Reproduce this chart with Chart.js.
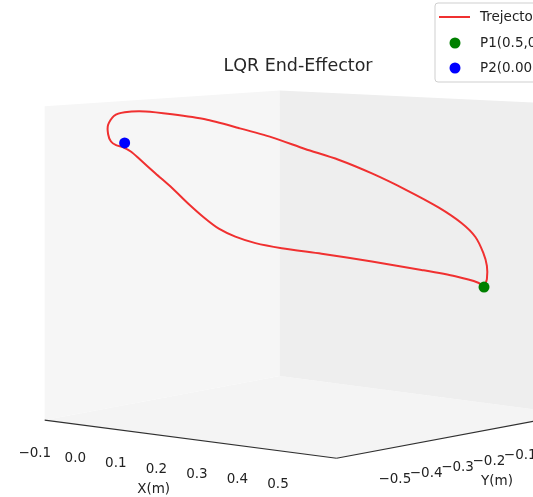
<!DOCTYPE html>
<html>
<head>
<meta charset="utf-8">
<script src="https://cdn.jsdelivr.net/npm/chart.js@4.4.1/dist/chart.umd.min.js"></script>
<style>
  html, body { margin: 0; padding: 0; background: #fff; overflow: hidden; }
  #wrap { width: 533px; height: 497px; }
</style>
</head>
<body>
<div id="wrap"><canvas id="chart" width="533" height="497"></canvas></div>
<script>
const trajX = [0.500, 0.504, 0.504, 0.499, 0.488, 0.469, 0.437, 0.390, 0.344, 0.298, 0.251, 0.205, 0.159,
               0.112, 0.066, 0.029, 0.000, -0.015, -0.023, -0.023, -0.019, -0.012, -0.002, 0.009, 0.020,
               0.043, 0.066, 0.089, 0.112, 0.131, 0.154, 0.182, 0.219, 0.274, 0.344, 0.413, 0.460, 0.492, 0.500];
const trajY = [0.000, 0.004, 0.004, -0.001, -0.012, -0.031, -0.064, -0.110, -0.156, -0.203, -0.249, -0.295, -0.342,
               -0.388, -0.434, -0.471, -0.500, -0.515, -0.523, -0.523, -0.519, -0.512, -0.502, -0.491, -0.481,
               -0.457, -0.434, -0.411, -0.388, -0.369, -0.346, -0.318, -0.282, -0.226, -0.156, -0.087, -0.040, -0.008, 0.000];
const trajZ = [0.300, 0.311, 0.329, 0.347, 0.369, 0.388, 0.410, 0.435, 0.457, 0.476, 0.491, 0.507, 0.520,
               0.532, 0.539, 0.543, 0.542, 0.537, 0.525, 0.512, 0.502, 0.497, 0.494, 0.488, 0.479,
               0.458, 0.438, 0.416, 0.396, 0.382, 0.371, 0.362, 0.355, 0.347, 0.336, 0.324, 0.315, 0.306, 0.300];
const P1 = [0.5, 0.0, 0.3];
const P2 = [0.0, -0.5, 0.5];
const seriesLabels = ['Trejectory', 'P1(0.5,0.0,0.3)', 'P2(0.00,-0.50,0.50)'];

const xTicks = [-0.1, 0.0, 0.1, 0.2, 0.3, 0.4, 0.5];
const yTicks = [-0.5, -0.4, -0.3, -0.2, -0.1, 0.0, 0.1];
const xLim = [-0.12, 0.60];
const yLim = [-0.60, 0.15];
const zLim = [0.12, 0.55];

const RED = '#f03030', GREEN = '#008000', BLUE = '#0000ff';
const PANE_X = '#f6f6f6', PANE_Y = '#eeeeee', PANE_Z = '#f4f4f4';
const FONT = "'DejaVu Sans', sans-serif";
const W = 533, H = 497;

// view of the axes box: bottom-left-back corner, edge vectors and a height
// that shrinks with depth (cheap perspective)
const VIEW = { ox: 40, oy: 424, ex: [298, 39], ey: [240, -45], h0: 321, hx: 25, hy: -29 };

function proj(x, y, z) {
  const u = (x - xLim[0]) / (xLim[1] - xLim[0]);
  const v = (y - yLim[0]) / (yLim[1] - yLim[0]);
  const w = (z - zLim[0]) / (zLim[1] - zLim[0]);
  const h = VIEW.h0 + VIEW.hx * u + VIEW.hy * v;
  return {
    x: VIEW.ox + VIEW.ex[0] * u + VIEW.ey[0] * v,
    y: VIEW.oy + VIEW.ex[1] * u + VIEW.ey[1] * v - h * w
  };
}

const trajPts = trajX.map((x, i) => proj(x, trajY[i], trajZ[i]));

const fmt = t => (t < 0 ? '\u2212' : '') + Math.abs(t).toFixed(1);

// ── panes, axes, ticks, title and legend ──
const frame3d = {
  id: 'frame3d',
  beforeDatasetsDraw(chart) {
    const c = chart.ctx;
    const sx = chart.scales.x, sy = chart.scales.y;
    const P = (x, y, z) => { const p = proj(x, y, z); return [sx.getPixelForValue(p.x), sy.getPixelForValue(p.y)]; };
    const [x0, x1] = xLim, [y0, y1] = yLim, [z0, z1] = zLim;
    const poly = (pts, fill) => {
      c.beginPath();
      pts.forEach((p, i) => i ? c.lineTo(p[0], p[1]) : c.moveTo(p[0], p[1]));
      c.closePath();
      c.fillStyle = fill;
      c.fill();
    };
    c.save();
    poly([P(x0, y0, z0), P(x1, y0, z0), P(x1, y1, z0), P(x0, y1, z0)], PANE_Z);
    poly([P(x0, y0, z0), P(x0, y1, z0), P(x0, y1, z1), P(x0, y0, z1)], PANE_X);
    poly([P(x0, y1, z0), P(x1, y1, z0), P(x1, y1, z1), P(x0, y1, z1)], PANE_Y);

    // axis lines
    c.strokeStyle = '#303030';
    c.lineWidth = 1.2;
    const seg = (a, b) => { c.beginPath(); c.moveTo(a[0], a[1]); c.lineTo(b[0], b[1]); c.stroke(); };
    seg(P(x0, y0, z0), P(x1, y0, z0));
    seg(P(x1, y0, z0), P(x1, y1, z0));
    seg(P(x1, y1, z0), P(x1, y1, z1));

    // tick labels
    c.fillStyle = '#222';
    c.font = '13.5px ' + FONT;
    c.textAlign = 'center';
    c.textBaseline = 'middle';
    xTicks.forEach(t => { const p = P(t, y0, z0); c.fillText(fmt(t), p[0] - 18, p[1] + 32); });
    yTicks.forEach(t => { const p = P(x1, t, z0); c.fillText(fmt(t), p[0] + 27, p[1] + 27); });
    const xl = P((x0 + x1) / 2, y0, z0);
    c.fillText('X(m)', xl[0] - 37, xl[1] + 50);
    const yl = P(x1, (y0 + y1) / 2, z0);
    c.fillText('Y(m)', yl[0] + 43, yl[1] + 45);

    // title
    c.fillStyle = '#262626';
    c.font = '17.5px ' + FONT;
    c.textBaseline = 'alphabetic';
    c.fillText('LQR End-Effector', 298, 71);
    c.restore();
  },
  afterDraw(chart) {
    const c = chart.ctx;
    const ds = chart.data.datasets;
    const bx = 435, by = 3, bw = 200, bh = 79, rows = [17, 43, 68];
    c.save();
    c.beginPath();
    c.roundRect(bx, by, bw, bh, 3);
    c.fillStyle = 'rgba(255,255,255,0.85)';
    c.fill();
    c.strokeStyle = '#cfcfcf';
    c.lineWidth = 1;
    c.stroke();
    c.font = '13.5px ' + FONT;
    c.textBaseline = 'middle';
    c.textAlign = 'left';
    ds.forEach((d, i) => {
      const y = rows[i];
      if (d.showLine) {
        c.strokeStyle = d.borderColor;
        c.lineWidth = 2;
        c.beginPath(); c.moveTo(439, y); c.lineTo(470, y); c.stroke();
      } else {
        c.fillStyle = d.backgroundColor;
        c.beginPath(); c.arc(455, y, 5.5, 0, Math.PI * 2); c.fill();
      }
      c.fillStyle = '#222';
      c.fillText(d.label, 480, y);
    });
    c.restore();
  }
};

new Chart(document.getElementById('chart').getContext('2d'), {
  type: 'scatter',
  data: {
    datasets: [
      { label: seriesLabels[0], data: trajPts, showLine: true, borderColor: RED, borderWidth: 2,
        pointRadius: 0, tension: 0.25, fill: false, order: 2 },
      { label: seriesLabels[1], data: [proj(...P1)], backgroundColor: GREEN, borderWidth: 0,
        pointRadius: 5.5, order: 1 },
      { label: seriesLabels[2], data: [proj(...P2)], backgroundColor: BLUE, borderWidth: 0,
        pointRadius: 5.5, order: 0 }
    ]
  },
  options: {
    responsive: false,
    animation: false,
    layout: { padding: 0 },
    scales: {
      x: { type: 'linear', min: 0, max: W, display: false },
      y: { type: 'linear', min: 0, max: H, reverse: true, display: false }
    },
    plugins: { legend: { display: false }, tooltip: { enabled: false } }
  },
  plugins: [frame3d]
});
</script>
</body>
</html>
